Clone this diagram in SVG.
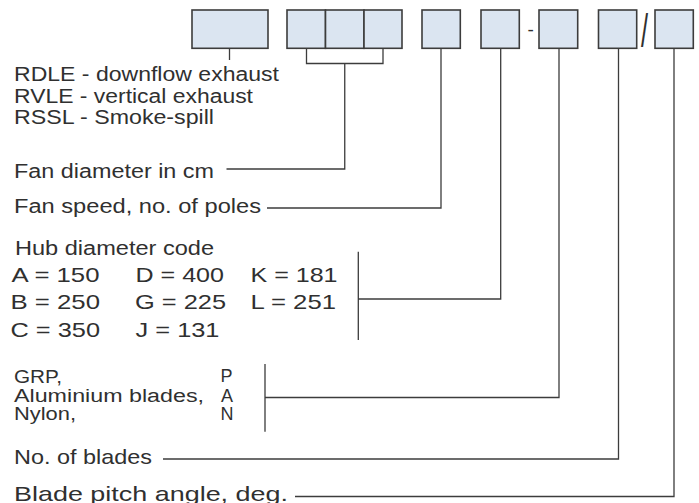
<svg xmlns="http://www.w3.org/2000/svg" width="699" height="503" viewBox="0 0 699 503">
<style>
.box{fill:#dbe5f1;stroke:#3c3c3c;stroke-width:1.6}
.ln{fill:none;stroke:#3c3c3c;stroke-width:1.3}
.t{font-family:"Liberation Sans",Arial,Helvetica,sans-serif;font-size:19.5px;fill:#303030}
.h{font-size:21px}
.m{font-size:18px}
</style>
<rect width="699" height="503" fill="#ffffff"/>
<g id="box-type"><rect class="box" x="192" y="10" width="76" height="38.3"/></g>
<g id="box-diameter">
<rect class="box" x="287" y="10" width="38.5" height="38.3"/>
<rect class="box" x="325.5" y="10" width="38.5" height="38.3"/>
<rect class="box" x="364" y="10" width="38" height="38.3"/>
</g>
<g id="box-speed"><rect class="box" x="422" y="10" width="38.3" height="38.3"/></g>
<g id="box-hub"><rect class="box" x="481" y="10" width="38.3" height="38.3"/></g>
<text class="t" x="527.5" y="36" style="font-size:19px">-</text>
<g id="box-material"><rect class="box" x="539" y="10" width="38.7" height="38.3"/></g>
<g id="box-blades"><rect class="box" x="598.5" y="10" width="38.2" height="38.3"/></g>
<text class="t" x="0" y="0" style="font-size:46px" transform="translate(641,47) scale(0.55,1)">/</text>
<g id="box-pitch"><rect class="box" x="655" y="10" width="38.3" height="38.3"/></g>

<g id="connectors">
<path class="ln" d="M229.5 48.3V60"/>
<path class="ln" d="M306.5 48.3V63.5H383V48.3M344.75 63.5V169H226.5"/>
<path class="ln" d="M441 48.3V208H267"/>
<path class="ln" d="M500.7 48.3V299H358.3M358.3 251.7V340"/>
<path class="ln" d="M559 48.3V397.5H265M265 364V431.7"/>
<path class="ln" d="M618.5 48.3V459H163"/>
<path class="ln" d="M674 48.3V496.5H295"/>
</g>

<g id="label-type">
<text class="t" x="14" y="81" textLength="265" lengthAdjust="spacingAndGlyphs">RDLE - downflow exhaust</text>
<text class="t" x="14" y="102.7" textLength="239" lengthAdjust="spacingAndGlyphs">RVLE - vertical exhaust</text>
<text class="t" x="14" y="124" textLength="200" lengthAdjust="spacingAndGlyphs">RSSL - Smoke-spill</text>
</g>
<g id="label-diameter"><text class="t" x="14" y="177.5" textLength="200" lengthAdjust="spacingAndGlyphs">Fan diameter in cm</text></g>
<g id="label-speed"><text class="t" x="14" y="213.3" textLength="247" lengthAdjust="spacingAndGlyphs">Fan speed, no. of poles</text></g>
<g id="label-hub">
<text class="t" x="15" y="255" textLength="199" lengthAdjust="spacingAndGlyphs">Hub diameter code</text>
<text class="t h" x="11.5" y="281.7" textLength="88" lengthAdjust="spacingAndGlyphs">A = 150</text>
<text class="t h" x="135.5" y="281.7" textLength="88.5" lengthAdjust="spacingAndGlyphs">D = 400</text>
<text class="t h" x="250.5" y="281.7" textLength="87" lengthAdjust="spacingAndGlyphs">K = 181</text>
<text class="t h" x="10.5" y="309" textLength="89.5" lengthAdjust="spacingAndGlyphs">B = 250</text>
<text class="t h" x="135" y="309" textLength="91" lengthAdjust="spacingAndGlyphs">G = 225</text>
<text class="t h" x="250.5" y="309" textLength="85.5" lengthAdjust="spacingAndGlyphs">L = 251</text>
<text class="t h" x="10.5" y="336.7" textLength="89.5" lengthAdjust="spacingAndGlyphs">C = 350</text>
<text class="t h" x="135.5" y="336.7" textLength="84" lengthAdjust="spacingAndGlyphs">J = 131</text>
</g>
<g id="label-material">
<text class="t m" x="14" y="383" textLength="48" lengthAdjust="spacingAndGlyphs">GRP,</text>
<text class="t m" x="14" y="401.7" textLength="190" lengthAdjust="spacingAndGlyphs">Aluminium blades,</text>
<text class="t m" x="14" y="420" textLength="62" lengthAdjust="spacingAndGlyphs">Nylon,</text>
<text class="t m" x="220.5" y="382">P</text>
<text class="t m" x="221" y="401.7">A</text>
<text class="t m" x="220.5" y="420">N</text>
</g>
<g id="label-blades"><text class="t" x="14" y="464.3" style="font-size:21px" textLength="138" lengthAdjust="spacingAndGlyphs">No. of blades</text></g>
<g id="label-pitch"><text class="t" x="14" y="501" style="font-size:21px" textLength="274" lengthAdjust="spacingAndGlyphs">Blade pitch angle, deg.</text></g>
</svg>
